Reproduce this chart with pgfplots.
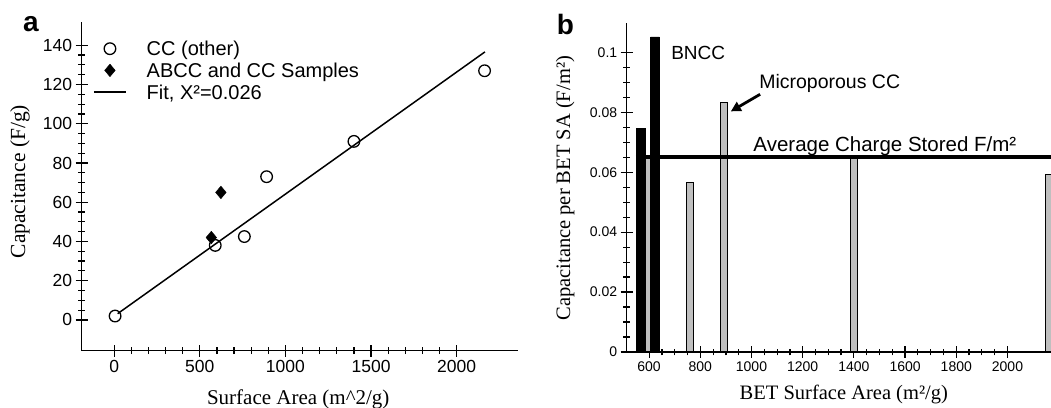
\documentclass[border=0pt]{standalone}
\usepackage{fontspec}
\setmainfont{Liberation Serif}
\setsansfont{Liberation Sans}
\usepackage{pgfplots}
\pgfplotsset{compat=1.18}
\usetikzlibrary{arrows.meta}
\pgfplotsset{
  markleg/.style={legend image code/.code={\draw[##1] plot coordinates {(16bp,7bp)};}},
  lineleg/.style={legend image code/.code={\draw[##1] (0bp,7bp) -- (32bp,7bp);}},
}

\begin{document}
\begin{tikzpicture}
\pgfplotsset{
  myaxis/.style={
    scale only axis,
    axis lines*=left,
    tick align=center,
    major tick length=12bp,
    minor tick length=7bp,
    every tick/.style={black, line width=1.2bp},
    axis line style={line width=1.3bp},
    /pgf/number format/assume math mode=true,
    label style={font=\rmfamily\fontsize{20.5bp}{24bp}\selectfont},
    clip mode=individual,
  }
}
% ---------------- panel a ----------------
\begin{axis}[myaxis, at={(81.7bp,57.3bp)}, anchor=south west,
  width=436.6bp, height=329bp,
  xmin=-190, xmax=2360, ymin=-15.67, ymax=152,
  xtick={0,500,1000,1500,2000}, xticklabels={0,500,1000,1500,2000},
  ytick={0,20,40,60,80,100,120,140}, yticklabels={0,20,40,60,80,100,120,140},
  minor x tick num=4, minor y tick num=3,
  tick label style={font=\sffamily\fontsize{17.5bp}{20bp}\selectfont},
  xlabel={Surface Area (m\textasciicircum 2/g)},
  ylabel={Capacitance (F/g)},
  xlabel style={at={(axis description cs:0.496,-0.163)}, anchor=base,
    font=\rmfamily\fontsize{21bp}{24bp}\selectfont},
  ylabel style={at={(axis description cs:-0.1413,0.514)}, anchor=center,
    font=\rmfamily\fontsize{21.5bp}{24bp}\selectfont},
  legend style={at={(axis description cs:0.0259,0.9444)}, anchor=north west,
    draw=none, fill=none, inner sep=0pt, row sep=1.2bp,
    font=\sffamily\fontsize{20bp}{22bp}\selectfont,
    nodes={inner sep=1bp, text height=14.5bp, text depth=4bp, anchor=base west},
    /tikz/every odd column/.append style={column sep=19bp}},
]
\addplot[only marks, mark=*, mark size=5.8bp,
  mark options={line width=1.3bp, fill=white, draw=black}, markleg]
  coordinates {(5,2)(590,38)(760,42.5)(890,73)(1400,91)(2163,127)};
\addlegendentry{CC (other)}
\addplot[only marks, mark=diamond*, mark size=6.3bp,
  mark options={fill=black, draw=black, xscale=1.12}, markleg]
  coordinates {(567,42)(623,65)};
\addlegendentry{ABCC and CC Samples}
\addplot[black, line width=1.5bp, mark=none, lineleg]
  coordinates {(20,3.2)(2165,136.6)};
\addlegendentry{Fit, X²=0.026}
\node[anchor=base west, inner sep=0pt, font=\sffamily\bfseries\fontsize{28bp}{30bp}\selectfont]
  at (axis description cs:-0.1344,0.9696) {a};
\end{axis}
% ---------------- panel b ----------------
\begin{axis}[myaxis, at={(626.7bp,56bp)}, anchor=south west,
  width=424.3bp, height=328.7bp,
  xmin=512.5, xmax=2170, ymin=0, ymax=0.1097,
  xtick={600,800,1000,1200,1400,1600,1800,2000},
  xticklabels={600,800,1000,1200,1400,1600,1800,2000},
  ytick={0,0.02,0.04,0.06,0.08,0.1},
  yticklabels={0,0.02,0.04,0.06,0.08,0.1},
  scaled y ticks=false,
  minor x tick num=3, minor y tick num=3,
  tick label style={font=\sffamily\fontsize{14bp}{16bp}\selectfont},
  xlabel={BET Surface Area (m²/g)},
  ylabel={Capacitance per BET SA (F/m²)},
  xlabel style={at={(axis description cs:0.5117,-0.146)}, anchor=base},
  ylabel style={at={(axis description cs:-0.145,0.498)}, anchor=center},
]
\addplot[ybar, bar width=27, bar shift=0pt, fill=gray!50, draw=black, line width=1.2bp]
  coordinates {(592,0.0645)(760,0.0565)(892,0.0833)(1400,0.065)(2162,0.0593)};
\addplot[ybar, bar width=35, bar shift=0pt, fill=black, draw=black]
  coordinates {(568,0.0747)(623,0.1052)};
\addplot[black, line width=3.8bp, mark=none] coordinates {(548,0.0651)(2170,0.0651)};
\addplot[black, line width=2.8bp, mark=none, -{Triangle[length=10bp,width=10bp]}]
  coordinates {(1033.6,0.086)(919.2,0.0803)};
\node[anchor=base west, inner sep=0pt, font=\sffamily\fontsize{19bp}{22bp}\selectfont]
  at (axis cs:686,0.0976) {BNCC};
\node[anchor=base west, inner sep=0pt, font=\sffamily\fontsize{19.5bp}{22bp}\selectfont]
  at (axis cs:1029.7,0.0878) {Microporous CC};
\node[anchor=base west, inner sep=0pt, font=\sffamily\fontsize{20.5bp}{22bp}\selectfont]
  at (axis cs:1007,0.0668) {Average Charge Stored F/m²};
\node[anchor=base west, inner sep=0pt, font=\sffamily\bfseries\fontsize{28bp}{30bp}\selectfont]
  at (axis description cs:-0.165,0.9644) {b};
\end{axis}
\pgfresetboundingbox
\path[use as bounding box] (0,0) rectangle (1051bp,408bp);
\end{tikzpicture}
\end{document}
